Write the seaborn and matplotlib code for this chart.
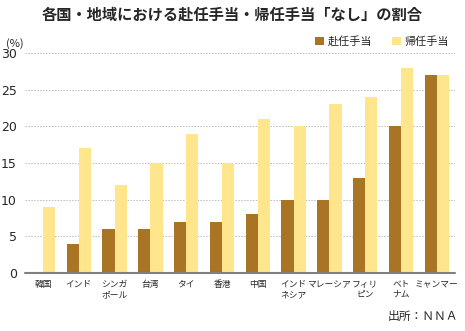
import matplotlib
matplotlib.use("Agg")
import matplotlib.pyplot as plt
from matplotlib.patches import Patch
import seaborn as sns
import pandas as pd

# 国・地域ごとの「なし」と回答した割合（%）
countries = ["韓国", "インド", "シンガ\nポール", "台湾", "タイ", "香港", "中国",
             "インド\nネシア", "マレーシア", "フィリ\nピン", "ベト\nナム", "ミャンマー"]
outbound = [0, 4, 6, 6, 7, 7, 8, 10, 10, 13, 20, 27]   # 赴任手当
homebound = [9, 17, 12, 15, 19, 15, 21, 20, 23, 24, 28, 27]  # 帰任手当
series_names = ["赴任手当", "帰任手当"]
yticks = [0, 5, 10, 15, 20, 25, 30]

df = pd.DataFrame({
    "国": countries * 2,
    "種類": [series_names[0]] * len(countries) + [series_names[1]] * len(countries),
    "割合": outbound + homebound,
})

sns.set_style("white")
plt.rcParams["font.family"] = ["Noto Sans CJK JP", "DejaVu Sans"]

fig = plt.figure(figsize=(4.65, 3.31), dpi=100)
ax = fig.add_axes([0.054, 0.175, 0.924, 0.665])

palette = {series_names[0]: "#A97424", series_names[1]: "#FFE68C"}
sns.barplot(data=df, x="国", y="割合", hue="種類", palette=palette,
            width=0.68, ax=ax, legend=False, saturation=1, zorder=3,
            linewidth=0)

ax.set_ylim(0, 30)
ax.set_xlim(-0.5, len(countries) - 0.5)
ax.set_yticks(yticks)
ax.set_yticklabels([str(v) for v in yticks], fontsize=9, family="DejaVu Sans Condensed")
ax.tick_params(axis="y", length=0, pad=6)
ax.tick_params(axis="x", length=0, labelsize=6.3, pad=5)
for lbl in ax.get_xticklabels():
    lbl.set_linespacing(1.15)
ax.set_xlabel("")
ax.set_ylabel("")

for v in yticks[1:]:
    ax.axhline(v, color="#BBBBBB", linestyle=(0, (1.5, 1.5)), linewidth=0.7, zorder=1)
ax.axhline(0, color="#808080", linewidth=1.5, zorder=4, clip_on=False)

for s in ax.spines.values():
    s.set_visible(False)

fig.text(0.5, 0.955, "各国・地域における赴任手当・帰任手当「なし」の割合",
         ha="center", va="center", fontsize=11, fontweight="bold")
fig.text(0.012, 0.868, "(%)", ha="left", va="center", fontsize=8)

# 凡例
handles = [Patch(facecolor=palette[n], edgecolor="none") for n in series_names]
fig.legend(handles, series_names, loc="center right", bbox_to_anchor=(0.975, 0.875),
           ncol=2, frameon=False, fontsize=8, handlelength=0.8, handleheight=0.8,
           handletextpad=0.3, columnspacing=1.8, borderaxespad=0)

fig.text(0.985, 0.025, "出所：ＮＮＡ", ha="right", va="bottom", fontsize=8.5)

fig.savefig("out.png", dpi=100)
